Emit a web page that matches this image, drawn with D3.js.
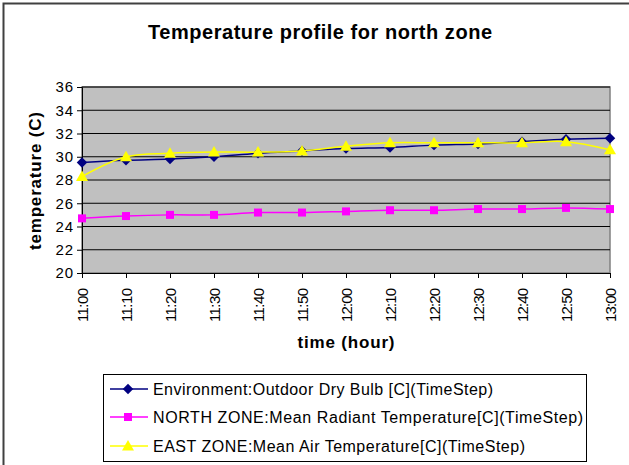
<!DOCTYPE html>
<html>
<head>
<meta charset="utf-8">
<script src="https://cdn.jsdelivr.net/npm/d3@7"></script>
<style>
  html, body { margin: 0; padding: 0; background: #fff; }
  svg { display: block; font-family: "Liberation Sans", Arial, sans-serif; }
</style>
</head>
<body>
<svg id="chart" width="629" height="465"></svg>
<script>
// time steps on the x axis
const times = ['11:00', '11:10', '11:20', '11:30', '11:40', '11:50', '12:00',
               '12:10', '12:20', '12:30', '12:40', '12:50', '13:00'];

// series values (deg C)
const outdoorDryBulb = [29.5, 29.7, 29.8, 30.0, 30.3, 30.5, 30.7, 30.8, 31.0, 31.1, 31.3, 31.5, 31.6];
const northRadiant   = [24.7, 24.9, 25.0, 25.0, 25.2, 25.2, 25.3, 25.4, 25.4, 25.5, 25.5, 25.6, 25.5];
const eastAir        = [28.3, 30.0, 30.3, 30.4, 30.4, 30.5, 30.9, 31.2, 31.2, 31.2, 31.2, 31.3, 30.6];

const yTicks = [20, 22, 24, 26, 28, 30, 32, 34, 36];

const series = [
    { name: 'Environment:Outdoor Dry Bulb [C](TimeStep)', values: outdoorDryBulb, color: '#000080', marker: 'diamond', width: 340 },
    { name: 'NORTH ZONE:Mean Radiant Temperature[C](TimeStep)', values: northRadiant, color: '#ff00ff', marker: 'square', width: 430 },
    { name: 'EAST ZONE:Mean Air Temperature[C](TimeStep)', values: eastAir, color: '#ffff00', marker: 'triangle', width: 372 }
];

const svg = d3.select('#chart');

// outer chart frame (right and bottom edges fall outside the picture)
svg.append('rect')
    .attr('x', 3.5).attr('y', 3.5).attr('width', 640).attr('height', 480)
    .attr('fill', 'none').attr('stroke', '#404040').attr('stroke-width', 2);

const plot = { left: 82, top: 87, right: 610, bottom: 273 };

const x = d3.scalePoint().domain(times).range([plot.left, plot.right]);
const y = d3.scaleLinear().domain([20, 36]).range([plot.bottom, plot.top]);

// plot background
svg.append('rect')
    .attr('x', plot.left).attr('y', plot.top)
    .attr('width', plot.right - plot.left).attr('height', plot.bottom - plot.top)
    .attr('fill', '#c0c0c0').attr('stroke', '#808080').attr('stroke-width', 1.5);

// horizontal gridlines
svg.append('g')
    .selectAll('line')
    .data(yTicks.slice(1))
    .join('line')
    .attr('x1', plot.left).attr('x2', plot.right)
    .attr('y1', d => y(d)).attr('y2', d => y(d))
    .attr('stroke', '#000').attr('stroke-width', 1);

// y axis
const yAxis = svg.append('g')
    .attr('transform', `translate(${plot.left},0)`)
    .call(d3.axisLeft(y).tickValues(yTicks).tickSize(5).tickPadding(4));
yAxis.select('.domain').attr('stroke', '#000');
yAxis.selectAll('text')
    .attr('font-size', 15).attr('fill', '#000')
    .attr('textLength', 17.5).attr('lengthAdjust', 'spacing');

// x axis
const xAxis = svg.append('g')
    .attr('transform', `translate(0,${plot.bottom})`)
    .call(d3.axisBottom(x).tickSize(5).tickSizeOuter(0));
xAxis.select('.domain').attr('stroke', '#000');
xAxis.selectAll('text')
    .attr('font-size', 15).attr('fill', '#000')
    .attr('transform', 'rotate(-90)')
    .attr('text-anchor', 'end')
    .attr('x', -15).attr('y', 0).attr('dy', '0.35em')
    .attr('textLength', 34).attr('lengthAdjust', 'spacing');

// titles
svg.append('text')
    .attr('x', 320).attr('y', 39)
    .attr('text-anchor', 'middle')
    .attr('font-size', 20).attr('font-weight', 'bold')
    .attr('textLength', 344).attr('lengthAdjust', 'spacing')
    .text('Temperature profile for north zone');

svg.append('text')
    .attr('x', (plot.left + plot.right) / 2).attr('y', 348)
    .attr('text-anchor', 'middle')
    .attr('font-size', 17).attr('font-weight', 'bold')
    .attr('textLength', 97).attr('lengthAdjust', 'spacing')
    .text('time (hour)');

svg.append('text')
    .attr('transform', `translate(41,181) rotate(-90)`)
    .attr('text-anchor', 'middle')
    .attr('font-size', 17).attr('font-weight', 'bold')
    .attr('textLength', 138).attr('lengthAdjust', 'spacing')
    .text('temperature (C)');

// marker shapes
function markerPath(type) {
    if (type === 'diamond') return d3.symbol(d3.symbolDiamond2, 70)();
    if (type === 'square') return d3.symbol(d3.symbolSquare, 64)();
    return 'M0,-6L6,4.5L-6,4.5Z';
}

const line = d3.line()
    .x((d, i) => x(times[i]))
    .y(d => y(d))
    .curve(d3.curveCatmullRom.alpha(0.5));

const layers = svg.append('g');

series.forEach(s => {
    const g = layers.append('g');
    g.append('path')
        .attr('d', line(s.values))
        .attr('fill', 'none')
        .attr('stroke', s.color)
        .attr('stroke-width', 1.5);
    g.selectAll('path.mark')
        .data(s.values)
        .join('path')
        .attr('class', 'mark')
        .attr('d', markerPath(s.marker))
        .attr('transform', (d, i) => `translate(${x(times[i])},${y(d)})`)
        .attr('fill', s.color);
});

// legend
const legend = svg.append('g');
legend.append('rect')
    .attr('x', 103.5).attr('y', 374.5).attr('width', 483).attr('height', 87)
    .attr('fill', '#fff').attr('stroke', '#000').attr('stroke-width', 1);

const legendRows = [389, 417, 446];
series.forEach((s, i) => {
    const row = legend.append('g').attr('transform', `translate(0,${legendRows[i]})`);
    row.append('line')
        .attr('x1', 110).attr('x2', 148)
        .attr('stroke', s.color).attr('stroke-width', 1.5);
    row.append('path')
        .attr('d', markerPath(s.marker))
        .attr('transform', 'translate(128,0)')
        .attr('fill', s.color);
    row.append('text')
        .attr('x', 153).attr('dy', '0.36em')
        .attr('font-size', 16)
        .attr('textLength', s.width).attr('lengthAdjust', 'spacing')
        .text(s.name);
});
</script>
</body>
</html>
